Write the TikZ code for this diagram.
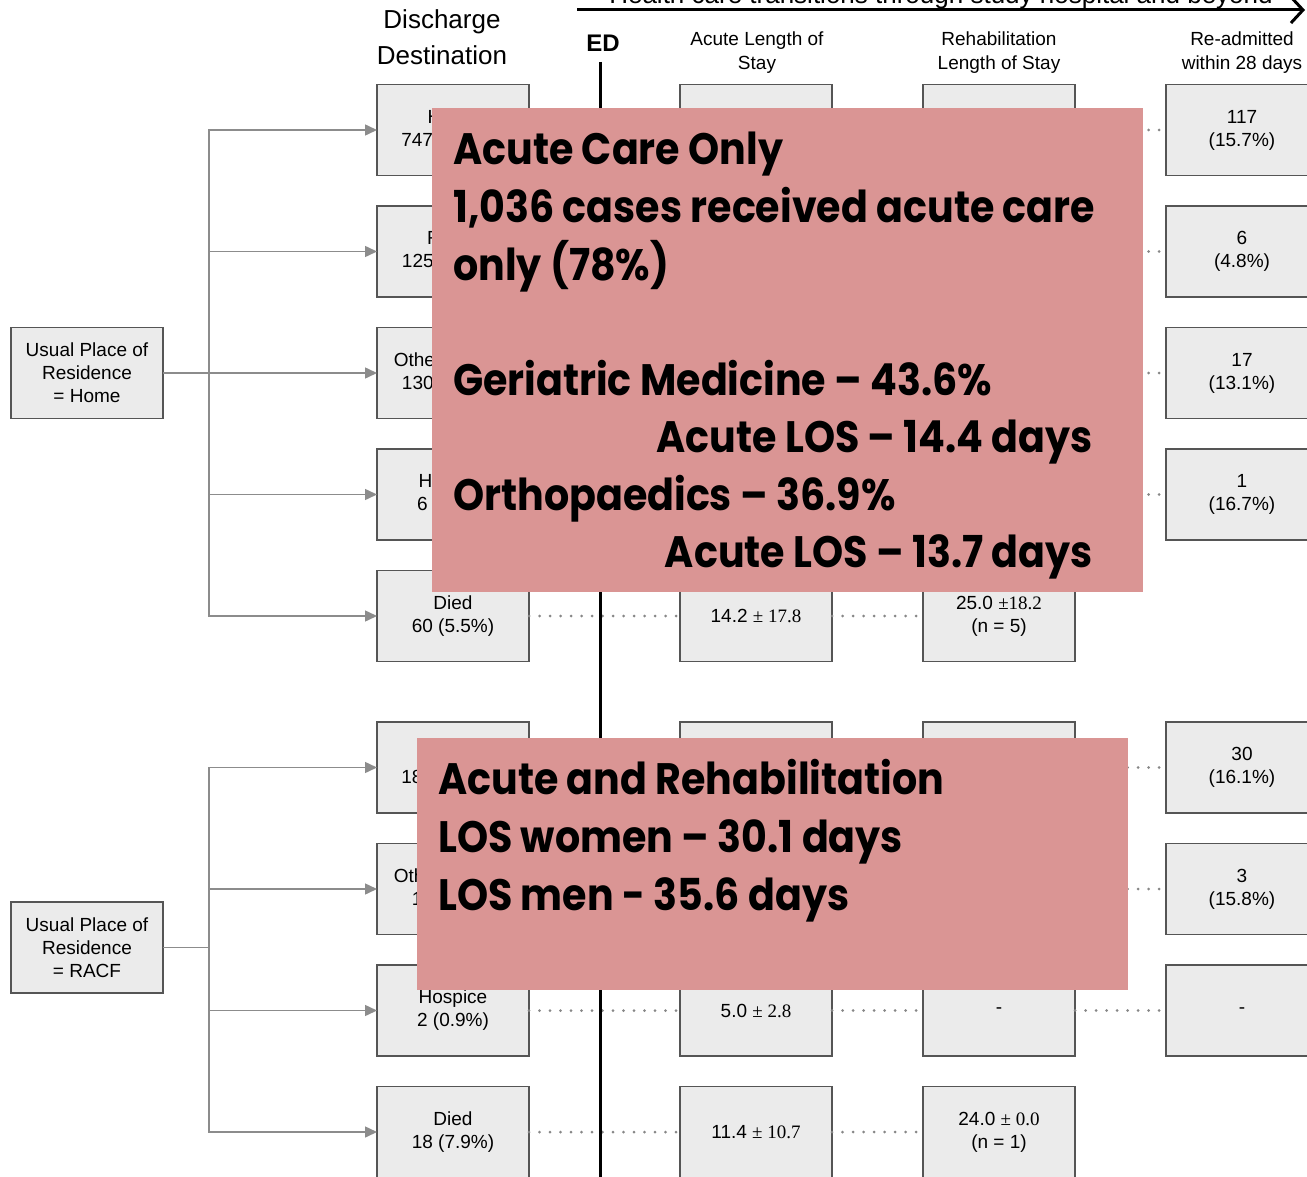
\documentclass[tikz,border=0pt]{standalone}
\usepackage{fontspec}
\setmainfont{Liberation Sans}
\newfontfamily\timesfont{Liberation Serif}
\newfontfamily\notefont{Poppins}[FakeStretch=0.9]
\usetikzlibrary{arrows.meta, positioning}

\definecolor{boxfill}{RGB}{235,235,235}
\definecolor{boxline}{RGB}{85,85,85}
\definecolor{linkgray}{RGB}{140,140,140}
\definecolor{dotgray}{RGB}{135,135,135}
\definecolor{notepink}{RGB}{218,149,148}

\tikzset{
  resnode/.style={rectangle,fill=boxfill,draw=boxline,line width=1.3pt,
    minimum width=152pt,minimum height=91pt,inner sep=0pt,outer sep=0pt,align=center,
    font=\fontsize{19}{23}\selectfont},
  headnode/.style={align=center,inner sep=0pt,font=\fontsize{19}{24}\selectfont},
  arr/.style={-{Triangle[length=12pt,width=11pt]},line width=1.5pt,draw=linkgray},
  dots/.style={line width=3pt,draw=dotgray,line cap=round,dash pattern=on 0pt off 10.5pt},
  edline/.style={line width=3pt,draw=black},
  flow/.style={-{Straight Barb[length=12pt,width=26pt]},line width=3pt,draw=black},
  notebox/.style={rectangle,fill=notepink,inner sep=0pt,anchor=north west},
  noteline/.style={inner sep=0pt,font=\notefont\bfseries\fontsize{44}{57}\selectfont}
}

\begin{document}
\begin{tikzpicture}[x=1pt,y=-1pt]
  \useasboundingbox (0,0) rectangle (1307,1177);

  % Headers
  \coordinate (flowStart) at (577,10);
  \coordinate (flowEnd) at (1305,10);
  \draw[flow] (flowStart) -- (flowEnd)
    node[midway,anchor=base,yshift=6pt,inner sep=0pt,font=\fontsize{26}{30}\selectfont]
    (flowLabel) {Health care transitions through study hospital and beyond};
  \node[headnode,font=\fontsize{26}{36}\selectfont] (destHead) at (442,37) {Discharge\\Destination};
  \node[font=\bfseries\fontsize{24}{28}\selectfont,inner sep=0pt] (ed) at (603,43) {ED};
  \node[headnode] (acuteHead) at (757,53) {Acute Length of\\Stay};
  \node[headnode] (rehabHead) at (999,53) {Rehabilitation\\Length of Stay};
  \node[headnode] (readmHead) at (1242,53) {Re-admitted\\within 28 days};

  % Usual place of residence
  \node[resnode] (home) at (87,373) {Usual Place of\\Residence\\= Home};
  \node[resnode] (racf) at (87,947.5) {Usual Place of\\Residence\\= RACF};

  % Discharge destination - Home
  \node[resnode] (dest1) at (453,130) {H\phantom{ome}\\747\phantom{ (68.5\%)}};
  \node[resnode,below=30.5pt of dest1] (dest2) {R\phantom{ACF}\\125\phantom{ (11.5\%)}};
  \node[resnode,below=30.5pt of dest2] (dest3) {Othe\phantom{r hospital}\\130\phantom{ (11.9\%)}};
  \node[resnode,below=30.5pt of dest3] (dest4) {H\phantom{ospice}\\6\phantom{ (0.5\%)}};
  \node[resnode,below=30.5pt of dest4] (dest5) {Died\\60 (5.5\%)};

  % Discharge destination - RACF
  \node[resnode] (dest6) at (453,767.5) {\phantom{RACF}\\18\phantom{6 (81.6\%)}};
  \node[resnode,below=30.5pt of dest6] (dest7) {Oth\phantom{er hospital}\\1\phantom{9 (8.3\%)}};
  \node[resnode,below=30.5pt of dest7] (dest8) {Hospice\\2 (0.9\%)};
  \node[resnode,below=30.5pt of dest8] (dest9) {Died\\18 (7.9\%)};

  % Acute length of stay
  \node[resnode,right=151pt of dest1] (acute1) {};
  \node[resnode,right=151pt of dest2] (acute2) {};
  \node[resnode,right=151pt of dest3] (acute3) {};
  \node[resnode,right=151pt of dest4] (acute4) {};
  \node[resnode,right=151pt of dest5] (acute5) {14.2 {\timesfont± 17.8}};
  \node[resnode,right=151pt of dest6] (acute6) {};
  \node[resnode,right=151pt of dest7] (acute7) {};
  \node[resnode,right=151pt of dest8] (acute8) {5.0 {\timesfont± 2.8}};
  \node[resnode,right=151pt of dest9] (acute9) {11.4 {\timesfont± 10.7}};

  % Rehabilitation length of stay
  \node[resnode,right=91pt of acute1] (rehab1) {};
  \node[resnode,right=91pt of acute2] (rehab2) {};
  \node[resnode,right=91pt of acute3] (rehab3) {};
  \node[resnode,right=91pt of acute4] (rehab4) {};
  \node[resnode,right=91pt of acute5] (rehab5) {25.0 {\timesfont±18.2}\\(n = 5)};
  \node[resnode,right=91pt of acute6] (rehab6) {};
  \node[resnode,right=91pt of acute7] (rehab7) {};
  \node[resnode,right=91pt of acute8] (rehab8) {-};
  \node[resnode,right=91pt of acute9] (rehab9) {24.0 {\timesfont± 0.0}\\(n = 1)};

  % Re-admitted within 28 days
  \node[resnode,right=91pt of rehab1] (readm1) {117\\(15.7\%)};
  \node[resnode,right=91pt of rehab2] (readm2) {6\\(4.8\%)};
  \node[resnode,right=91pt of rehab3] (readm3) {17\\(13.1\%)};
  \node[resnode,right=91pt of rehab4] (readm4) {1\\(16.7\%)};
  \node[resnode,right=91pt of rehab6] (readm6) {30\\(16.1\%)};
  \node[resnode,right=91pt of rehab7] (readm7) {3\\(15.8\%)};
  \node[resnode,right=91pt of rehab8] (readm8) {-};

  % Branches
  \draw[arr] (home.east) -- ++(46,0) |- (dest1.west);
  \draw[arr] (home.east) -- ++(46,0) |- (dest2.west);
  \draw[arr] (home.east) -- (dest3.west);
  \draw[arr] (home.east) -- ++(46,0) |- (dest4.west);
  \draw[arr] (home.east) -- ++(46,0) |- (dest5.west);
  \draw[arr] (racf.east) -- ++(46,0) |- (dest6.west);
  \draw[arr] (racf.east) -- ++(46,0) |- (dest7.west);
  \draw[arr] (racf.east) -- ++(46,0) |- (dest8.west);
  \draw[arr] (racf.east) -- ++(46,0) |- (dest9.west);

  % Dotted follow-up
  \draw[dots] (dest1.east) -- (acute1.west);
  \draw[dots] (dest2.east) -- (acute2.west);
  \draw[dots] (dest3.east) -- (acute3.west);
  \draw[dots] (dest4.east) -- (acute4.west);
  \draw[dots] (dest5.east) -- (acute5.west);
  \draw[dots] (dest6.east) -- (acute6.west);
  \draw[dots] (dest7.east) -- (acute7.west);
  \draw[dots] (dest8.east) -- (acute8.west);
  \draw[dots] (dest9.east) -- (acute9.west);
  \draw[dots] (acute1.east) -- (rehab1.west);
  \draw[dots] (acute2.east) -- (rehab2.west);
  \draw[dots] (acute3.east) -- (rehab3.west);
  \draw[dots] (acute4.east) -- (rehab4.west);
  \draw[dots] (acute5.east) -- (rehab5.west);
  \draw[dots] (acute6.east) -- (rehab6.west);
  \draw[dots] (acute7.east) -- (rehab7.west);
  \draw[dots] (acute8.east) -- (rehab8.west);
  \draw[dots] (acute9.east) -- (rehab9.west);
  \draw[dots] (rehab1.east) -- (readm1.west);
  \draw[dots] (rehab2.east) -- (readm2.west);
  \draw[dots] (rehab3.east) -- (readm3.west);
  \draw[dots] (rehab4.east) -- (readm4.west);
  \draw[dots] (rehab6.east) -- (readm6.west);
  \draw[dots] (rehab7.east) -- (readm7.west);
  \draw[dots] (rehab8.east) -- (readm8.west);

  % ED line
  \coordinate (edTop) at (600,62);
  \coordinate (edBot) at (600,1180);
  \draw[edline] (edTop) -- (edBot);

  % Acute care only note
  \node[notebox,minimum width=711pt,minimum height=484pt] (careNote) at (432,108) {};
  \node[noteline,anchor=base west] (careT1) at (453,165) {Acute Care Only};
  \node[noteline,anchor=base west] (careT2) at (453,222.5) {1,036 cases received acute care};
  \node[noteline,anchor=base west] (careT3) at (453,280) {only (78\%)};
  \node[noteline,anchor=base west] (careT4) at (453,395) {Geriatric Medicine – 43.6\%};
  \node[noteline,anchor=base east] (careT5) at (1093,452.5) {Acute LOS – 14.4 days};
  \node[noteline,anchor=base west] (careT6) at (453,510) {Orthopaedics – 36.9\%};
  \node[noteline,anchor=base east] (careT7) at (1093,567.5) {Acute LOS – 13.7 days};

  % Acute and rehabilitation note
  \node[notebox,minimum width=711pt,minimum height=252pt] (rehabNote) at (417,738) {};
  \node[noteline,anchor=base west] (rehabT1) at (438,794) {Acute and Rehabilitation};
  \node[noteline,anchor=base west] (rehabT2) at (438,852) {LOS women – 30.1 days};
  \node[noteline,anchor=base west] (rehabT3) at (438,910) {LOS men - 35.6 days};

\end{tikzpicture}
\end{document}
